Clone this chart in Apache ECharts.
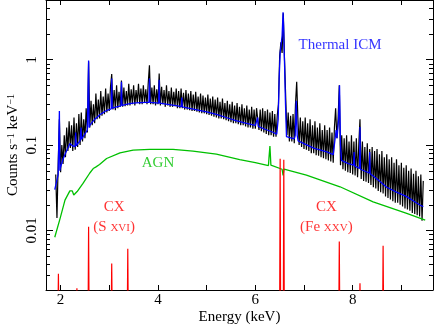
<!DOCTYPE html>
<html>
<head>
<meta charset="utf-8">
<script src="https://cdn.jsdelivr.net/npm/echarts@6/dist/echarts.min.js"></script>
<style>
  html, body { margin: 0; padding: 0; background: #fff; }
  #chart { width: 436px; height: 326px; }
</style>
</head>
<body>
<div id="chart"></div>
<script>
// observed spectrum (black): counts/s/keV in 0.025 keV bins starting at 1.90 keV
const binStart = 1.90, binWidth = 0.025;
const spectrumCounts = [
  0.045,0.014,0.06,0.2,0.048,0.1,0.06,0.13,0.072,0.16,0.085,0.19,0.092,0.17,0.085,0.21,0.088,0.18,0.095,0.23,
  0.1,0.24,0.11,0.2,0.12,0.27,0.14,0.95,0.16,0.33,0.17,0.3,0.18,0.4,0.2,0.34,0.205,0.43,0.22,0.37,
  0.23,0.46,0.24,0.4,0.25,0.48,0.68,0.26,0.44,0.255,0.5,0.27,0.42,0.28,0.57,0.28,0.47,0.285,0.43,0.29,
  0.52,0.29,0.45,0.3,0.5,0.29,0.44,0.31,0.52,0.3,0.46,0.3,0.5,0.31,0.45,0.3,0.53,0.86,0.3,0.47,
  0.3,0.5,0.29,0.45,0.3,0.69,0.29,0.48,0.3,0.44,0.28,0.5,0.29,0.43,0.28,0.47,0.28,0.42,0.285,0.46,
  0.27,0.43,0.27,0.46,0.27,0.41,0.26,0.44,0.26,0.4,0.255,0.43,0.25,0.39,0.25,0.42,0.245,0.37,0.24,0.4,
  0.235,0.38,0.235,0.36,0.23,0.39,0.225,0.35,0.22,0.37,0.215,0.34,0.21,0.36,0.205,0.32,0.205,0.35,0.2,0.31,
  0.195,0.33,0.19,0.3,0.185,0.32,0.18,0.29,0.18,0.31,0.175,0.28,0.17,0.3,0.17,0.27,0.165,0.29,0.16,0.26,
  0.16,0.28,0.155,0.26,0.155,0.27,0.2,0.15,0.26,0.145,0.27,0.14,0.25,0.135,0.26,0.13,0.24,0.13,0.25,0.125,
  0.23,0.125,0.22,0.3,1.1,1.6,1.2,3.5,1.0,0.35,0.13,0.24,0.11,0.22,0.11,0.23,0.105,0.3,0.55,0.2,
  0.1,0.21,0.095,0.19,0.09,0.21,0.088,0.18,0.085,0.2,0.08,0.17,0.08,0.19,0.076,0.16,0.075,0.18,0.072,0.15,
  0.07,0.17,0.068,0.15,0.066,0.16,0.064,0.14,0.062,0.16,0.27,0.12,0.2,0.5,0.058,0.13,0.052,0.12,0.05,0.13,
  0.048,0.11,0.047,0.13,0.045,0.11,0.044,0.12,0.042,0.1,0.2,0.04,0.11,0.038,0.095,0.037,0.105,0.036,0.09,0.034,
  0.095,0.032,0.085,0.031,0.09,0.029,0.078,0.028,0.085,0.027,0.072,0.025,0.078,0.024,0.068,0.023,0.072,0.022,0.062,0.021,
  0.068,0.021,0.058,0.02,0.062,0.019,0.054,0.018,0.058,0.0175,0.05,0.017,0.053,0.016,0.046,0.0155,0.05,0.015,0.043,0.0145,
  0.045,0.013,0.038
];

// thermal ICM model (blue), [energy keV, counts/s/keV]
const icmModel = [
  [1.88,0.030],[1.92,0.038],[1.95,0.045],[1.965,0.047],[1.975,0.25],[1.985,0.05],[2.0,0.055],[2.05,0.068],
  [2.1,0.08],[2.15,0.092],[2.19,0.104],[2.21,0.106],[2.24,0.098],[2.28,0.095],[2.30,0.096],[2.31,0.14],
  [2.32,0.098],[2.36,0.105],[2.40,0.112],[2.42,0.16],[2.43,0.116],[2.46,0.124],[2.50,0.135],[2.55,0.150],
  [2.565,0.155],[2.575,0.98],[2.585,0.16],[2.60,0.17],[2.65,0.185],[2.70,0.20],[2.75,0.212],[2.80,0.225],
  [2.85,0.235],[2.9,0.245],[2.95,0.255],[3.04,0.265],[3.05,0.6],[3.06,0.27],[3.15,0.28],[3.24,0.288],
  [3.25,0.55],[3.26,0.292],[3.35,0.300],[3.45,0.307],[3.55,0.312],[3.65,0.314],[3.75,0.315],[3.815,0.315],
  [3.825,0.6],[3.835,0.315],[3.9,0.314],[4.015,0.31],[4.025,0.58],[4.035,0.31],[4.2,0.30],[4.4,0.287],
  [4.48,0.282],[4.49,0.36],[4.5,0.28],[4.7,0.265],[5.0,0.244],[5.2,0.228],[5.4,0.21],[5.6,0.193],
  [5.8,0.18],[6.0,0.17],[6.04,0.167],[6.05,0.21],[6.06,0.165],[6.2,0.153],[6.35,0.142],[6.44,0.134],
  [6.47,0.2],[6.49,0.6],[6.51,1.2],[6.53,1.5],[6.55,1.9],[6.57,3.6],[6.58,2.5],[6.60,0.9],
  [6.62,0.3],[6.64,0.125],[6.8,0.118],[6.82,0.13],[6.84,0.33],[6.86,0.13],[6.88,0.112],[7.0,0.104],
  [7.2,0.092],[7.47,0.083],[7.6,0.077],[7.64,0.075],[7.66,0.15],[7.68,0.12],[7.71,0.2],[7.73,0.5],
  [7.75,0.1],[7.77,0.066],[7.9,0.061],[8.02,0.058],[8.03,0.083],[8.04,0.057],[8.14,0.053],[8.15,0.163],
  [8.16,0.052],[8.34,0.047],[8.35,0.083],[8.36,0.046],[8.5,0.04],[8.7,0.032],[8.9,0.028],[9.1,0.025],
  [9.38,0.0198],[9.45,0.019]
];

// AGN model (green)
const agnModel = [
  [1.88,0.0083],[1.99,0.0138],[2.09,0.0226],[2.19,0.029],[2.24,0.029],[2.27,0.026],[2.29,0.026],[2.34,0.0285],
  [2.46,0.0355],[2.6,0.047],[2.67,0.053],[2.72,0.055],[2.75,0.0565],[2.8,0.059],[2.945,0.0695],[3.22,0.081],
  [3.49,0.087],[3.83,0.089],[4.31,0.089],[4.72,0.085],[5.2,0.078],[5.68,0.0676],[6.0,0.062],[6.27,0.0575],
  [6.28,0.07],[6.30,0.097],[6.32,0.058],[6.55,0.052],[6.57,0.044],[6.59,0.052],[7.05,0.0443],[7.74,0.0324],
  [8.42,0.0216],[9.11,0.0158],[9.49,0.0132]
];

// charge-exchange lines (red)
const cxEnergy = [1.955, 2.335, 2.575, 3.05, 3.38, 6.51, 6.585, 7.725, 8.15, 8.625];
const cxPeak = [0.0031, 0.0021, 0.011, 0.0041, 0.0061, 0.069, 0.067, 0.0074, 0.0024, 0.0066];

const yTickLabels = { '-2': '0.01', '-1': '0.1', '0': '1' };

const FONT = '"Liberation Serif", "Times New Roman", serif';
const xMin = 1.7, xMax = 9.65, yMin = 0.002, yMax = 5;

const spectrum = spectrumCounts.map((c, i) => [binStart + i * binWidth, c]);

// red lines as narrow spikes dropping below the axis (clipped)
const cxLine = [];
cxEnergy.forEach((e, i) => {
  cxLine.push([e - 0.01, 0.001], [e, cxPeak[i]], [e + 0.01, 0.001]);
});

// minor log ticks 2..9 per decade
const minorTicks = [];
[-3, -2, -1, 0].forEach(p => {
  for (let k = 2; k <= 9; k++) {
    const v = k * Math.pow(10, p);
    if (v > yMin * 1.01 && v < yMax * 0.99) minorTicks.push([xMin, v]);
  }
});

const notes = [
  { value: [7.74, 1.485], text: 'Thermal ICM', color: '#0000ff' },
  { value: [4.0, 0.0615], text: 'AGN', color: '#00c000' },
  { value: [3.10, 0.0187], text: 'CX', color: '#ff0000' },
  { value: [3.10, 0.0109], text: '{b|(S }{s|XVI}{b|)}', color: '#ff0000' },
  { value: [7.46, 0.0187], text: 'CX', color: '#ff0000' },
  { value: [7.46, 0.0109], text: '{b|(Fe }{s|XXV}{b|)}', color: '#ff0000' }
];

const frameLine = { lineStyle: { color: '#000', width: 1 } };

function xAxisOf(pos, labels) {
  return {
    type: 'value', min: xMin, max: xMax, splitNumber: 8, position: pos,
    name: labels ? 'Energy (keV)' : '',
    nameLocation: 'middle', nameGap: 20, nameMoveOverlap: false,
    nameTextStyle: { fontFamily: FONT, fontSize: 15, color: '#000' },
    axisLine: frameLine,
    axisTick: { inside: true, length: 5, lineStyle: { color: '#000' } },
    axisLabel: {
      show: labels, fontFamily: FONT, fontSize: 15, color: '#000', margin: 3,
      formatter: v => {
        const r = Math.round(v);
        return (Math.abs(v - r) < 1e-6 && r % 2 === 0) ? String(r) : '';
      }
    },
    splitLine: { show: false }
  };
}

function yAxisOf(pos, labels) {
  return {
    type: 'log', logBase: 10, min: yMin, max: yMax, position: pos,
    name: labels ? '{n|Counts s}{s|\u22121}{n| keV}{s|\u22121}' : '',
    nameLocation: 'middle', nameGap: 25, nameMoveOverlap: false,
    nameTextStyle: {
      fontFamily: FONT, color: '#000',
      rich: {
        n: { fontFamily: FONT, fontSize: 15, color: '#000', verticalAlign: 'bottom' },
        s: { fontFamily: FONT, fontSize: 10, color: '#000', verticalAlign: 'top' }
      }
    },
    axisLine: frameLine,
    axisTick: { inside: true, length: 7, lineStyle: { color: '#000' } },
    axisLabel: {
      show: labels, rotate: 90, fontFamily: FONT, fontSize: 15, color: '#000', margin: 6,
      formatter: v => {
        const l = Math.log10(v), r = Math.round(l);
        return Math.abs(l - r) < 1e-6 && yTickLabels[r] ? yTickLabels[r] : '';
      }
    },
    splitLine: { show: false },
    minorTick: { show: false }
  };
}

const chart = echarts.init(document.getElementById('chart'), null, { renderer: 'canvas' });

chart.setOption({
  animation: false,
  backgroundColor: '#fff',
  grid: { left: 46, right: 3, top: 0, bottom: 36, outerBoundsMode: 'none', containLabel: false },
  xAxis: [xAxisOf('bottom', true), xAxisOf('top', false)],
  yAxis: [yAxisOf('left', true), yAxisOf('right', false)],
  series: [
    {
      type: 'line', data: spectrum, symbol: 'none', clip: true,
      lineStyle: { color: '#000', width: 1.2 }, z: 2
    },
    {
      type: 'line', data: icmModel, symbol: 'none', clip: true,
      lineStyle: { color: '#0000ff', width: 1.3 }, z: 3
    },
    {
      type: 'line', data: agnModel, symbol: 'none', clip: true,
      lineStyle: { color: '#00c000', width: 1.3 }, z: 3
    },
    {
      type: 'line', data: cxLine, symbol: 'none', clip: true,
      lineStyle: { color: '#ff0000', width: 1.2 }, z: 3
    },
    {
      // minor ticks on the log axes (left and right)
      type: 'custom', data: minorTicks, silent: true, z: 5,
      renderItem: (params, api) => {
        const y = Math.round(api.coord([xMin, api.value(1)])[1]) + 0.5;
        const cs = params.coordSys;
        return {
          type: 'group',
          children: [
            { type: 'line', shape: { x1: cs.x, y1: y, x2: cs.x + 4, y2: y }, style: { stroke: '#000', lineWidth: 1 } },
            { type: 'line', shape: { x1: cs.x + cs.width - 4, y1: y, x2: cs.x + cs.width, y2: y }, style: { stroke: '#000', lineWidth: 1 } }
          ]
        };
      }
    },
    {
      type: 'scatter', symbolSize: 0, silent: true, z: 6,
      data: notes.map(n => ({
        value: n.value,
        label: {
          show: true, position: 'inside', formatter: n.text,
          fontFamily: FONT, fontSize: 15, color: n.color,
          rich: {
            b: { fontFamily: FONT, fontSize: 15, color: n.color, verticalAlign: 'bottom' },
            s: { fontFamily: FONT, fontSize: 11, color: n.color, verticalAlign: 'bottom', padding: [0, 0, 1, 0] }
          }
        }
      }))
    }
  ]
});
</script>
</body>
</html>
